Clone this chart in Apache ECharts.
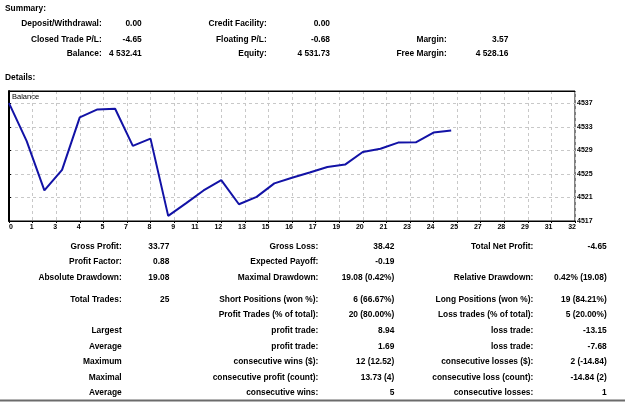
<!DOCTYPE html>
<html lang="en">
<head>
    <meta charset="utf-8">
    <title>Strategy Tester Report</title>
    <script type="text/javascript" src="https://cdn.jsdelivr.net/npm/echarts@6/dist/echarts.min.js"></script>
    <style>
        html, body { margin: 0; padding: 0; background: #fff; }
        #main { width: 625px; height: 402px; }
    </style>
</head>
<body>
<div id="main"></div>
<script type="text/javascript">
    // balance curve, one point per closed trade
    var tradeIdx = [0, 1, 2, 3, 4, 5, 6, 7, 8, 9, 10, 11, 12, 13, 14, 15, 16, 17, 18, 19, 20, 21, 22, 23, 24, 25];
    var balance = [4537.06, 4530.6, 4522.22, 4525.7, 4534.64, 4536.0, 4536.1, 4529.8, 4531.02, 4517.87,
                   4520.0, 4522.2, 4523.95, 4519.85, 4521.1, 4523.4, 4524.35, 4525.25, 4526.2, 4526.6,
                   4528.75, 4529.3, 4530.35, 4530.4, 4532.05, 4532.41];
    var xTickLabels = ['0', '1', '3', '4', '5', '7', '8', '9', '11', '12', '13', '15', '16', '17',
                       '19', '20', '21', '23', '24', '25', '27', '28', '29', '31', '32'];

    // summary block (3 rows x 3 pairs)
    var sumLabels = [
        ['Deposit/Withdrawal:', 'Credit Facility:', ''],
        ['Closed Trade P/L:', 'Floating P/L:', 'Margin:'],
        ['Balance:', 'Equity:', 'Free Margin:']
    ];
    var sumValues = [
        ['0.00', '0.00', ''],
        ['-4.65', '-0.68', '3.57'],
        ['4 532.41', '4 531.73', '4 528.16']
    ];

    // details block
    var detLabels = [
        ['Gross Profit:', 'Gross Loss:', 'Total Net Profit:'],
        ['Profit Factor:', 'Expected Payoff:', ''],
        ['Absolute Drawdown:', 'Maximal Drawdown:', 'Relative Drawdown:'],
        ['Total Trades:', 'Short Positions (won %):', 'Long Positions (won %):'],
        ['', 'Profit Trades (% of total):', 'Loss trades (% of total):'],
        ['Largest', 'profit trade:', 'loss trade:'],
        ['Average', 'profit trade:', 'loss trade:'],
        ['Maximum', 'consecutive wins ($):', 'consecutive losses ($):'],
        ['Maximal', 'consecutive profit (count):', 'consecutive loss (count):'],
        ['Average', 'consecutive wins:', 'consecutive losses:']
    ];
    var detValues = [
        ['33.77', '38.42', '-4.65'],
        ['0.88', '-0.19', ''],
        ['19.08', '19.08 (0.42%)', '0.42% (19.08)'],
        ['25', '6 (66.67%)', '19 (84.21%)'],
        ['', '20 (80.00%)', '5 (20.00%)'],
        ['', '8.94', '-13.15'],
        ['', '1.69', '-7.68'],
        ['', '12 (12.52)', '2 (-14.84)'],
        ['', '13.73 (4)', '-14.84 (2)'],
        ['', '5', '1']
    ];

    var myChart = echarts.init(document.getElementById('main'));
    var FONT = 'bold 8.4px "Liberation Sans", Arial, sans-serif';

    var sumRowY = [24, 39.3, 54];
    var sumColX = [101.7, 141.7, 266.7, 330, 446.7, 508.3];
    var detRowY = [246.7, 261.7, 277.3, 300, 315, 331, 346.3, 361.7, 377.3, 392.7];
    var detColX = [121.7, 169.3, 318.3, 394.3, 533.3, 606.7];

    function txt(s, x, y, align, font) {
        return {
            type: 'text', x: x, y: y, silent: true,
            style: {
                text: s, font: font || FONT, fill: '#000',
                textAlign: align || 'right', textVerticalAlign: 'middle'
            }
        };
    }

    var graphics = [];
    graphics.push(txt('Summary:', 5, 8.3, 'left'));
    graphics.push(txt('Details:', 5, 77.3, 'left'));
    for (var r = 0; r < sumLabels.length; r++) {
        for (var c = 0; c < 3; c++) {
            graphics.push(txt(sumLabels[r][c], sumColX[c * 2], sumRowY[r]));
            graphics.push(txt(sumValues[r][c], sumColX[c * 2 + 1], sumRowY[r]));
        }
    }
    for (var r = 0; r < detLabels.length; r++) {
        for (var c = 0; c < 3; c++) {
            graphics.push(txt(detLabels[r][c], detColX[c * 2], detRowY[r]));
            graphics.push(txt(detValues[r][c], detColX[c * 2 + 1], detRowY[r]));
        }
    }
    graphics.push(txt('Balance', 12, 96.5, 'left', '7.5px "Liberation Sans", Arial, sans-serif'));
    graphics.push({
        type: 'line', silent: true,
        shape: { x1: 0, y1: 400.5, x2: 625, y2: 400.5 },
        style: { stroke: '#6b6b6b', lineWidth: 2 }
    });

    var points = [];
    for (var i = 0; i < tradeIdx.length; i++) {
        points.push([tradeIdx[i], balance[i]]);
    }

    var gridLine = { show: true, lineStyle: { color: '#c8c8c8', type: [3, 3], width: 1 } };
    var axisFont = { fontSize: 7, fontWeight: 'bold', color: '#000', fontFamily: '"Liberation Sans", Arial, sans-serif' };

    var option = {
        backgroundColor: '#fff',
        animation: false,
        grid: {
            left: 9, right: 50, top: 91, bottom: 181,
            show: true, borderColor: '#000', borderWidth: 1, backgroundColor: '#fff'
        },
        xAxis: [
            {
                type: 'category',
                data: xTickLabels,
                boundaryGap: false,
                position: 'bottom',
                axisLine: { show: true, lineStyle: { color: '#000', width: 1 } },
                axisTick: { show: true, length: 2, lineStyle: { color: '#000' } },
                splitLine: gridLine,
                axisLabel: Object.assign({
                    margin: 3, interval: 0, align: 'right', padding: [0, -1, 0, 0],
                    alignMinLabel: 'left'
                }, axisFont)
            },
            {
                // value scale for the trades, its line closes the top of the frame
                type: 'value', min: 0, max: 32, position: 'top',
                axisLine: { show: true, lineStyle: { color: '#000', width: 1 } },
                axisTick: { show: false },
                axisLabel: { show: false },
                splitLine: { show: false }
            }
        ],
        yAxis: {
            type: 'value',
            position: 'right',
            min: 4517,
            max: 4539.13,
            interval: 4,
            axisLine: { show: true, lineStyle: { color: '#000', width: 2 } },
            axisTick: { show: true, length: 2, lineStyle: { color: '#000' } },
            splitLine: gridLine,
            axisLabel: Object.assign({
                margin: 2, showMaxLabel: false,
                formatter: function (v) { return String(Math.round(v)); }
            }, axisFont)
        },
        graphic: graphics,
        series: [
            {
                name: 'Balance',
                type: 'line',
                xAxisIndex: 1,
                data: points,
                symbol: 'none',
                lineStyle: { color: '#1212a6', width: 2 }
            }
        ]
    };
    myChart.setOption(option);
</script>
</body>
</html>
